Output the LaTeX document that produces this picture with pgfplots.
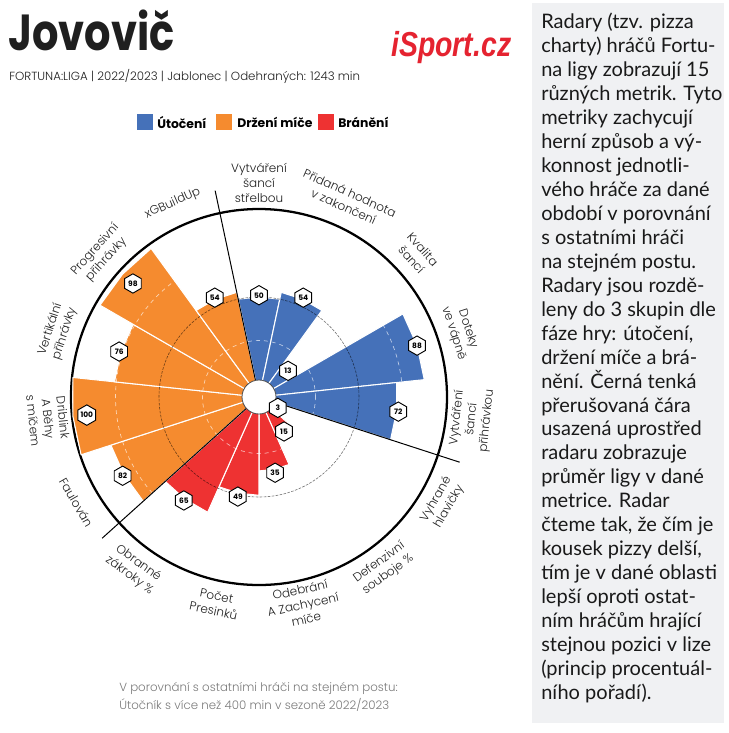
\documentclass[border=0pt]{standalone}
\usepackage{pgfplots}
\pgfplotsset{compat=1.18}
\usepackage{pgfplotstable}
\usepgfplotslibrary{polar}
\usetikzlibrary{shapes.geometric}
\usepackage{fontspec}
\setmainfont{Poppins}
\newfontfamily\pl{Poppins Light}
\newfontfamily\lato{Lato}
\newfontfamily\logofont{Liberation Sans}
\definecolor{cU}{HTML}{4571B9}
\definecolor{cD}{HTML}{F58B2F}
\definecolor{cB}{HTML}{EE3232}
\definecolor{logored}{HTML}{E52330}
\definecolor{panel}{HTML}{F0F1F3}
\definecolor{foot}{HTML}{7A7A7A}
\tikzset{hexlabel/.style={regular polygon, regular polygon sides=6, shape border rotate=30,
     minimum size=14.5pt, inner sep=0pt, fill=white, draw=black, line width=0.7pt,
     font=\fontsize{5.6}{6}\selectfont\bfseries, anchor=center}}

% c = angle clockwise from top (wedge centre), v = percentile, lr = label radius
\pgfplotstableread{
c   v   lr  grp
0   50  51  U
24  54  55  U
48  13  15  U
72  88  88  U
96  72  73  U
120 3   5   B
144 15  17  B
168 35  37  B
192 49  51  B
216 65  66  B
240 82  83  D
264 100 92  D
288 76  77  D
312 98  90  D
336 54  55  D
}\pizza

\begin{document}
\begin{tikzpicture}[x=0.75pt,y=0.75pt]
\path[use as bounding box] (0,0) rectangle (729,-733);
\fill[panel] (532,-3) rectangle (723.5,-723);

% title and subtitle
\node[anchor=base west, inner sep=0, font=\fontsize{38}{40}\selectfont\bfseries, text=black!88] at (8,-50) {\scalebox{0.82}[1]{Jovovič}};
\node[anchor=base west, inner sep=0, font=\pl\fontsize{8.85}{11}\selectfont, text=black!88] at (9,-80) {FORTUNA:LIGA | 2022/2023 | Jablonec | Odehraných: 1243 min};
\node[anchor=base west, inner sep=0, text=logored, font=\logofont\bfseries\itshape\fontsize{26}{28}\selectfont] at (391,-56) {\scalebox{0.82}[1]{iSport.cz}};

% legend
\fill[cU] (137,-114) rectangle (153,-130);
\node[anchor=west, inner sep=0, font=\fontsize{9.3}{11}\selectfont\bfseries] at (157,-122) {Útočení};
\fill[cD] (216,-114) rectangle (232,-130);
\node[anchor=west, inner sep=0, font=\fontsize{9.3}{11}\selectfont\bfseries] at (237,-122) {Držení míče};
\fill[cB] (318,-114) rectangle (334,-130);
\node[anchor=west, inner sep=0, font=\fontsize{9.3}{11}\selectfont\bfseries] at (338,-122) {Bránění};

\begin{polaraxis}[
  at={(194.25pt,-297.75pt)}, anchor=center,
  scale only axis, width=282pt, height=282pt,
  ymin=0, ymax=108,
  xtick=\empty, ytick=\empty,
  hide y axis,
  clip=false,
  axis line style={line width=1.7pt, black},
]
\pgfplotsforeachungrouped \i in {0,...,14}{%
  \pgfplotstablegetelem{\i}{c}\of\pizza \let\cc\pgfplotsretval
  \pgfplotstablegetelem{\i}{v}\of\pizza \let\vv\pgfplotsretval
  \pgfplotstablegetelem{\i}{grp}\of\pizza \edef\col{c\pgfplotsretval}%
  \pgfmathsetmacro\aL{90-\cc+12}%
  \pgfmathsetmacro\aM{90-\cc}%
  \pgfmathsetmacro\aR{90-\cc-12}%
  \pgfmathsetmacro\rr{\vv+7.47}%
  \edef\next{\noexpand\addplot[fill=\col, draw=white, line width=0.8pt, line join=round]
     coordinates {(\aL,0) (\aL,\rr) (\aM,\rr) (\aR,\rr) (\aR,0)};}%
  \next
}
% reference circles (25, 75 light; 50 = league average, dashed black)
\draw[white, dashed, line width=0.5pt, opacity=0.65] (axis cs:0,0) circle[radius=42.4pt];
\draw[white, dashed, line width=0.5pt, opacity=0.65] (axis cs:0,0) circle[radius=107.6pt];
\draw[black, line width=0.45pt, opacity=0.55, dash pattern=on 2pt off 1pt] (axis cs:0,0) circle[radius=75pt];
% group separators
\draw[black, line width=0.75pt] (axis cs:0,0) -- ++(-258:158.25pt);
\draw[black, line width=0.75pt] (axis cs:0,0) -- ++(-18:158.25pt);
\draw[black, line width=0.75pt] (axis cs:0,0) -- ++(-138:158.25pt);
% centre hole
\draw[fill=white, draw=black!70, line width=0.6pt] (axis cs:0,0) circle[radius=12.75pt];
% value labels
\addplot[draw=none, nodes near coords, point meta=explicit symbolic,
   nodes near coords style={hexlabel}]
   table[x expr=90-\thisrow{c}, y expr=\thisrow{lr}+7.47, meta=v] {\pizza};
\end{polaraxis}

% metric labels
\begin{scope}[shift={(259,-397)}]
\foreach \c/\r/\txt in {
  0/214/{Vytváření\\šancí\\střelbou},
  24/216/{Přidaná hodnota\\v zakončení},
  48/213/{Kvalita\\šancí},
  72/212/{Doteky\\ve vápně},
  96/214/{Vytváření\\šancí\\přihrávkou},
  120/212/{Vyhrané\\hlavičky},
  144/212/{Defenzivní\\souboje \%},
  168/212/{Odebrání\\A Zachycení\\míče},
  192/211/{Počet\\Presinků},
  216/213/{Obranné\\zákroky \%},
  240/211/{Faulován},
  264/212/{Driblink\\A Běhy\\s míčem},
  288/212/{Vertikální\\přihrávky},
  312/213/{Progresivní\\přihrávky},
  336/212/{xGBuildUp}}{
  \pgfmathsetmacro\rot{ifthenelse(and(\c>90,\c<270),180-\c,-\c)}
  \node[align=center, inner sep=0, rotate=\rot, font=\pl\fontsize{9}{11.25}\selectfont, text=black!88]
     at ({90-\c}:\r) {\txt};
}
\end{scope}

% footnote
\node[anchor=base west, inner sep=0, font=\pl\fontsize{8.85}{10}\selectfont, text=foot] at (119,-691) {V porovnání s ostatními hráči na stejném postu:};
\node[anchor=base west, inner sep=0, font=\pl\fontsize{8.85}{10}\selectfont, text=foot] at (119,-709) {Útočník s více než 400 min v sezoně 2022/2023};

% side text
\foreach \t [count=\n from 0] in {
 {Radary (tzv. pizza},
 {charty) hráčů Fortu-},
 {na ligy zobrazují 15},
 {různých metrik. Tyto},
 {metriky zachycují},
 {herní způsob a vý-},
 {konnost jednotli-},
 {vého hráče za dané},
 {období v porovnání},
 {s ostatními hráči},
 {na stejném postu.},
 {Radary jsou rozdě-},
 {leny do 3 skupin dle},
 {fáze hry: útočení,},
 {držení míče a brá-},
 {nění. Černá tenká},
 {přerušovaná čára},
 {usazená uprostřed},
 {radaru zobrazuje},
 {průměr ligy v dané},
 {metrice. Radar},
 {čteme tak, že čím je},
 {kousek pizzy delší,},
 {tím je v dané oblasti},
 {lepší oproti ostat-},
 {ním hráčům hrající},
 {stejnou pozici v lize},
 {(princip procentuál-},
 {ního pořadí).}}{
  \node[anchor=base west, inner sep=0, font=\lato\fontsize{15}{18}\selectfont, text=black!90] at (541,{-28.5-23.97*\n}) {\t};
}
\end{tikzpicture}
\end{document}
